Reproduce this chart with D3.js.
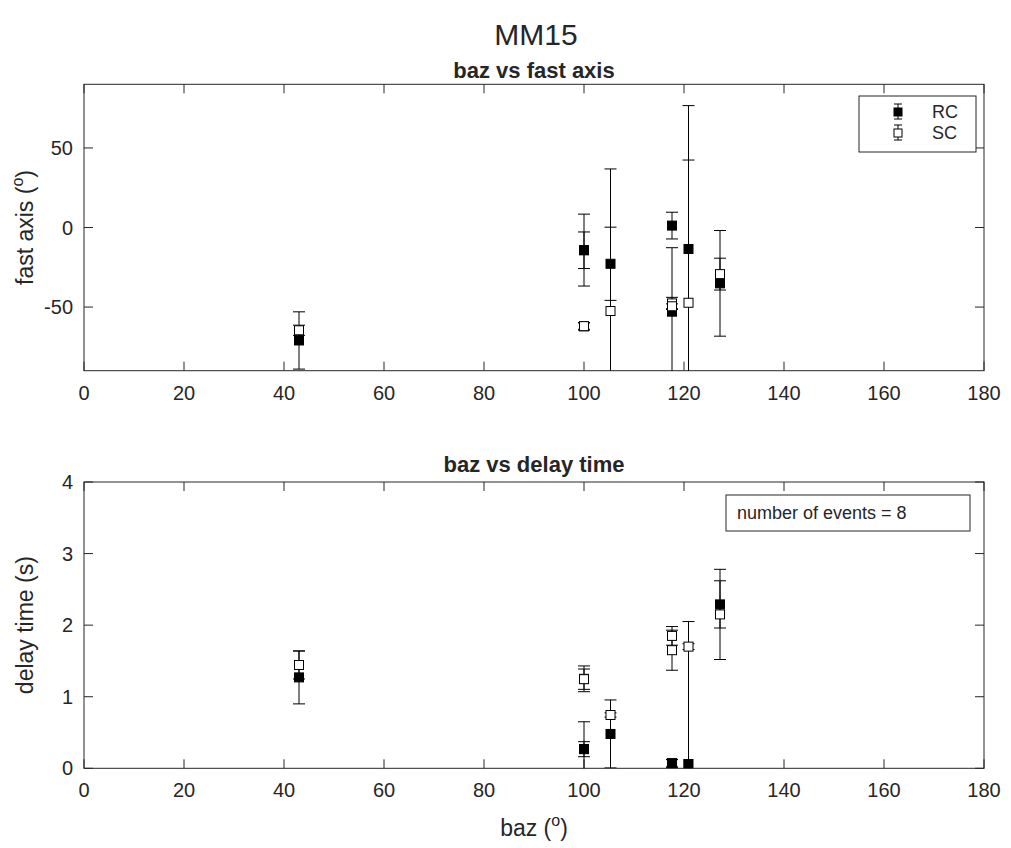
<!DOCTYPE html>
<meta charset="utf-8">
<style>
  body { margin: 0; background: #fff; }
  text { font-family: "Liberation Sans", Arial, Helvetica, sans-serif; fill: #262626; }
</style>

<!-- Load d3.js -->
<script src="https://d3js.org/d3.v7.min.js"></script>

<div id="my_dataviz"></div>

<script>

// ---- data: one entry per event ----
var baz       = [43, 100, 100, 105.3, 117.6, 117.6, 120.9, 127.2];
var fastRC    = [-71, -14.2, -14.3, -22.8, 1.2, -52.9, -13.5, -35.1];
var fastRCerr = [18, 22.6, 11.5, 23, 8.4, 40.2, 90.1, 33.2];
var fastSC    = [-64.6, -62.1, -62, -52.5, -47.7, -49.5, -47.3, -29.3];
var fastSCerr = [3.2, 2.4, 2.0, 89.3, 3.8, 1.5, 89.7, 10];
var dtRC      = [1.27, 0.27, 0.267, 0.48, 0.07, 0.07, 0.06, 2.29];
var dtRCerr   = [0.37, 0.38, 0.105, 0.475, 0.056, 0.05, 1.99, 0.33];
var dtSC      = [1.443, 1.25, 1.245, 0.745, 1.85, 1.65, 1.70, 2.15];
var dtSCerr   = [0.195, 0.18, 0.142, 0.03, 0.13, 0.28, 0.04, 0.63];

var xTicks     = [0, 20, 40, 60, 80, 100, 120, 140, 160, 180];
var fastTicks  = [-50, 0, 50];
var delayTicks = [0, 1, 2, 3, 4];
var seriesNames = ["RC", "SC"];
var nEvents = baz.length;

var width = 1011, height = 848;
var axColor = "#262626";

var svg = d3.select("#my_dataviz")
  .append("svg")
  .attr("width", width)
  .attr("height", height);

svg.append("rect").attr("width", width).attr("height", height).attr("fill", "#fff");

// shared x scale
var x = d3.scaleLinear().domain([0, 180]).range([84, 984]);

// figure title
svg.append("text")
  .attr("x", 536).attr("y", 45)
  .attr("text-anchor", "middle")
  .style("font-size", "30px")
  .text("MM15");

// draws one panel, returns its group and y scale
function panel(id, yDomain, yRange, yTicks, title, titleGap, ylabel, yunit) {
  var y = d3.scaleLinear().domain(yDomain).range(yRange);
  var g = svg.append("g").attr("id", id);

  g.append("clipPath").attr("id", "clip-" + id)
    .append("rect")
    .attr("x", x.range()[0]).attr("y", yRange[1])
    .attr("width", x.range()[1] - x.range()[0])
    .attr("height", yRange[0] - yRange[1]);

  // ticks (box with mirrored ticks, pointing inward)
  var tl = 9;
  xTicks.forEach(function(t) {
    g.append("line").attr("x1", x(t)).attr("x2", x(t))
      .attr("y1", yRange[0]).attr("y2", yRange[0] - tl).attr("stroke", axColor);
    g.append("line").attr("x1", x(t)).attr("x2", x(t))
      .attr("y1", yRange[1]).attr("y2", yRange[1] + tl).attr("stroke", axColor);
    g.append("text").attr("x", x(t)).attr("y", yRange[0] + 29)
      .attr("text-anchor", "middle").style("font-size", "20px").text(t);
  });
  yTicks.forEach(function(t) {
    g.append("line").attr("x1", x.range()[0]).attr("x2", x.range()[0] + tl)
      .attr("y1", y(t)).attr("y2", y(t)).attr("stroke", axColor);
    g.append("line").attr("x1", x.range()[1]).attr("x2", x.range()[1] - tl)
      .attr("y1", y(t)).attr("y2", y(t)).attr("stroke", axColor);
    g.append("text").attr("x", 73).attr("y", y(t) + 7)
      .attr("text-anchor", "end").style("font-size", "20px").text(t);
  });

  g.append("rect")
    .attr("x", x.range()[0]).attr("y", yRange[1])
    .attr("width", x.range()[1] - x.range()[0])
    .attr("height", yRange[0] - yRange[1])
    .attr("fill", "none").attr("stroke", axColor).attr("stroke-width", 1);

  // title
  g.append("text")
    .attr("x", (x.range()[0] + x.range()[1]) / 2).attr("y", yRange[1] - titleGap)
    .attr("text-anchor", "middle")
    .style("font-size", "22px").style("font-weight", "bold")
    .text(title);

  // y label with superscript
  var cy = (yRange[0] + yRange[1]) / 2;
  var lab = g.append("text")
    .attr("transform", "translate(33," + cy + ")rotate(-90)")
    .attr("text-anchor", "middle")
    .style("font-size", "23px");
  if (yunit) {
    lab.append("tspan").text(ylabel + " (");
    lab.append("tspan").attr("dy", -10).style("font-size", "16px").text(yunit);
    lab.append("tspan").attr("dy", 10).text(")");
  } else {
    lab.text(ylabel);
  }
  return {g: g, y: y};
}

// error bars + markers for one series
function series(p, id, vals, errs, filled) {
  var grp = p.g.append("g").attr("clip-path", "url(#clip-" + id + ")");
  var y = p.y, cap = 6, ms = 9;
  baz.forEach(function(b, i) {
    var lo = y(vals[i] - errs[i]), hi = y(vals[i] + errs[i]);
    grp.append("line").attr("x1", x(b)).attr("x2", x(b))
      .attr("y1", lo).attr("y2", hi).attr("stroke", "#000");
    grp.append("line").attr("x1", x(b) - cap).attr("x2", x(b) + cap)
      .attr("y1", lo).attr("y2", lo).attr("stroke", "#000");
    grp.append("line").attr("x1", x(b) - cap).attr("x2", x(b) + cap)
      .attr("y1", hi).attr("y2", hi).attr("stroke", "#000");
  });
  baz.forEach(function(b, i) {
    grp.append("rect")
      .attr("x", x(b) - ms / 2).attr("y", y(vals[i]) - ms / 2)
      .attr("width", ms).attr("height", ms)
      .attr("fill", filled ? "#000" : "#fff")
      .attr("stroke", "#000");
  });
}

// ---- top panel: fast axis ----
var fastP = panel("fast", [-90, 90], [370.7, 84.3], fastTicks, "baz vs fast axis", 6, "fast axis", "o");
series(fastP, "fast", fastRC, fastRCerr, true);
series(fastP, "fast", fastSC, fastSCerr, false);

// legend
var leg = fastP.g.append("g");
leg.append("rect").attr("x", 859).attr("y", 96).attr("width", 117).attr("height", 56)
  .attr("fill", "#fff").attr("stroke", axColor);
seriesNames.forEach(function(name, i) {
  var cy = 112 + i * 21, cx = 898;
  leg.append("line").attr("x1", cx).attr("x2", cx).attr("y1", cy - 8).attr("y2", cy + 7).attr("stroke", "#000");
  leg.append("line").attr("x1", cx - 4).attr("x2", cx + 4).attr("y1", cy - 8).attr("y2", cy - 8).attr("stroke", "#000");
  leg.append("line").attr("x1", cx - 4).attr("x2", cx + 4).attr("y1", cy + 7).attr("y2", cy + 7).attr("stroke", "#000");
  leg.append("rect").attr("x", cx - 4).attr("y", cy - 4).attr("width", 8).attr("height", 8)
    .attr("fill", i == 0 ? "#000" : "#fff").attr("stroke", "#000");
  leg.append("text").attr("x", 932).attr("y", cy + 6).style("font-size", "18px").text(name);
});

// ---- bottom panel: delay time ----
var delayP = panel("delay", [0, 4], [768.3, 482], delayTicks, "baz vs delay time", 10, "delay time (s)", null);
series(delayP, "delay", dtRC, dtRCerr, true);
series(delayP, "delay", dtSC, dtSCerr, false);

// event count box
delayP.g.append("rect").attr("x", 726).attr("y", 495).attr("width", 244).attr("height", 36)
  .attr("fill", "#fff").attr("stroke", axColor);
delayP.g.append("text").attr("x", 737).attr("y", 519).style("font-size", "18px")
  .text("number of events = " + nEvents);

// x label
var xl = svg.append("text")
  .attr("x", 534).attr("y", 836)
  .attr("text-anchor", "middle")
  .style("font-size", "23px");
xl.append("tspan").text("baz (");
xl.append("tspan").attr("dy", -10).style("font-size", "16px").text("o");
xl.append("tspan").attr("dy", 10).text(")");

</script>
